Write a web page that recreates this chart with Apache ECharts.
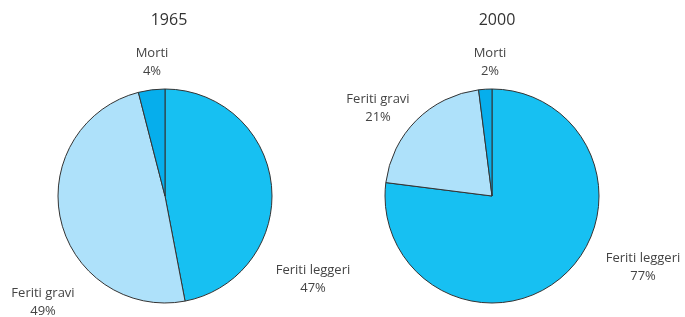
<!DOCTYPE html>
<html><head><meta charset="utf-8">
<script src="https://cdn.jsdelivr.net/npm/echarts@6/dist/echarts.min.js"></script>
<style>html,body{margin:0;padding:0;background:#fff}#c{width:685px;height:317px}</style>
</head><body><div id="c"></div>
<script>
const categories = ["Feriti leggeri", "Feriti gravi", "Morti"];
const years = ["1965", "2000"];
const values1965 = [47, 49, 4];
const values2000 = [77, 21, 2];
const colors = ["#17C0F2", "#AEE1FA", "#06AEEC"];

const FONT = "'Open Sans', sans-serif";
const labelPos = [
  [[313, 279], [43, 302], [152, 62]],
  [[643, 267], [378, 108], [490, 62]]
];
function mkSeries(idx, vals, cx) {
  return {
    type: 'pie',
    center: [cx, 196],
    radius: 107,
    startAngle: 90,
    clockwise: true,
    silent: true,
    animation: false,
    data: categories.map((n, i) => ({ name: n, value: vals[i], itemStyle: { color: colors[i] } })),
    itemStyle: { borderColor: '#333', borderWidth: 1 },
    label: {
      show: true,
      formatter: p => p.name + '\n' + p.value + '%',
      color: '#444',
      fontFamily: FONT,
      fontSize: 13,
      lineHeight: 18,
      align: 'center',
      overflow: 'none',
      width: 120
    },
    labelLine: { show: false },
    labelLayout: p => ({ x: labelPos[idx][p.dataIndex][0], y: labelPos[idx][p.dataIndex][1], align: 'center', verticalAlign: 'middle', hideOverlap: false, moveOverlap: false })
  };
}
const chart = echarts.init(document.getElementById('c'));
chart.setOption({
  title: [
    { text: years[0], left: 164, top: 7, textAlign: 'center', textStyle: { fontFamily: FONT, fontSize: 16, fontWeight: 'normal', color: '#333' } },
    { text: years[1], left: 492, top: 7, textAlign: 'center', textStyle: { fontFamily: FONT, fontSize: 16, fontWeight: 'normal', color: '#333' } }
  ],
  series: [mkSeries(0, values1965, 165), mkSeries(1, values2000, 492)]
});
</script></body></html>
